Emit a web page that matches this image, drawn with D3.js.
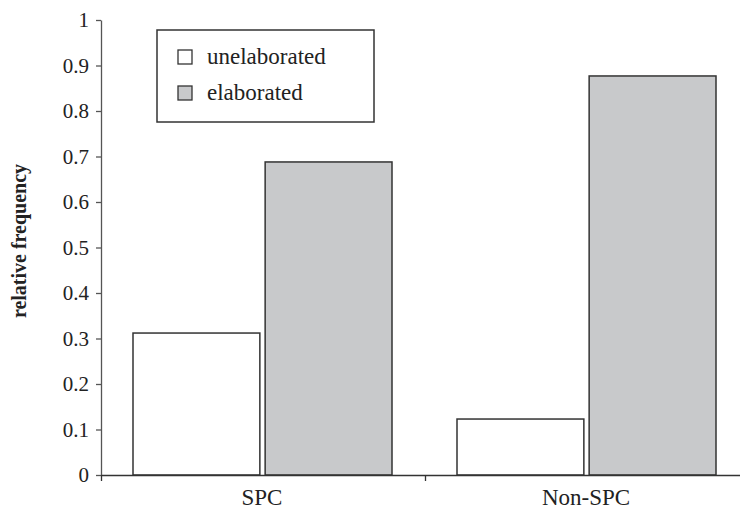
<!DOCTYPE html>
<html lang="en">
<head>
<meta charset="UTF-8" />
<title>relative frequency</title>
<script src="https://cdn.jsdelivr.net/npm/d3@7"></script>
<style>
  body { margin: 0; background: #fff; }
  svg text { font-family: "Liberation Serif", "DejaVu Serif", serif; fill: #222; }
</style>
</head>
<body>
<script>
// data
var categories = ["SPC", "Non-SPC"];
var seriesNames = ["unelaborated", "elaborated"];
var unelaborated = [0.312, 0.123];
var elaborated = [0.688, 0.877];
var yTicks = [0, 0.1, 0.2, 0.3, 0.4, 0.5, 0.6, 0.7, 0.8, 0.9, 1];
var colors = ["#ffffff", "#c8c9cb"];

var w = 740, h = 512;
var svg = d3.select("body").append("svg").attr("width", w).attr("height", h);

// plot edges (don't call it "top", that is window.top)
var plotLeft = 101, plotRight = 749, plotTop = 20, plotBottom = 475;

var x0 = d3.scaleBand().domain(categories).range([plotLeft, plotRight]);
var x1 = d3.scaleBand().domain(seriesNames).range([32, 291]).paddingInner(0.04);
var y = d3.scaleLinear().domain([0, 1]).range([plotBottom, plotTop]);

var rows = categories.map(function(c, i) {
  return { cat: c, values: [unelaborated[i], elaborated[i]] };
});

// bars
var groups = svg.selectAll("g.cat").data(rows).enter().append("g")
  .attr("class", "cat")
  .attr("transform", function(d) { return "translate(" + x0(d.cat) + ",0)"; });

groups.selectAll("rect").data(function(d) {
    return d.values.map(function(v, k) { return { key: seriesNames[k], v: v, k: k }; });
  }).enter().append("rect")
  .attr("x", function(d) { return x1(d.key); })
  .attr("width", x1.bandwidth())
  .attr("y", function(d) { return y(d.v); })
  .attr("height", function(d) { return plotBottom - y(d.v); })
  .attr("fill", function(d) { return colors[d.k]; })
  .attr("stroke", "#333")
  .attr("stroke-width", 1.5);

// y axis
var yAxis = svg.append("g")
  .attr("transform", "translate(" + plotLeft + ",0)")
  .call(d3.axisLeft(y).tickValues(yTicks).tickSize(5).tickSizeOuter(0).tickPadding(7)
    .tickFormat(function(d) { return String(+d.toFixed(1)); }));
yAxis.select(".domain").attr("stroke", "#555").attr("stroke-width", 1.3);
yAxis.selectAll(".tick line").attr("stroke", "#555").attr("stroke-width", 1.3);
yAxis.selectAll(".tick text").style("font-size", "21px").attr("fill", "#222");

// x axis: ticks at category boundaries, labels centred
var xb = d3.scaleLinear().domain([0, categories.length]).range([plotLeft, plotRight]);
var xAxis = svg.append("g")
  .attr("transform", "translate(0," + plotBottom + ")")
  .call(d3.axisBottom(xb).tickValues([0, 1, 2]).tickFormat("").tickSize(6).tickSizeOuter(0));
xAxis.select(".domain").attr("stroke", "#333").attr("stroke-width", 1.5);
xAxis.selectAll(".tick line").attr("stroke", "#333").attr("stroke-width", 1.3);

svg.append("g").selectAll("text").data(categories).enter().append("text")
  .attr("x", function(d) { return x0(d) + x0.bandwidth() / 2 - 1; })
  .attr("y", 505)
  .attr("text-anchor", "middle")
  .style("font-size", "23px")
  .text(function(d) { return d; });

// y label
svg.append("text")
  .attr("transform", "translate(26,241) rotate(-90)")
  .attr("text-anchor", "middle")
  .style("font-size", "20px")
  .style("font-weight", "bold")
  .text("relative frequency");

// legend
var lg = svg.append("g").attr("transform", "translate(157,30)");
lg.append("rect").attr("width", 217).attr("height", 92)
  .attr("fill", "#fff").attr("stroke", "#333").attr("stroke-width", 1.5);
var items = lg.selectAll("g.item").data(seriesNames).enter().append("g")
  .attr("class", "item")
  .attr("transform", function(d, i) { return "translate(21," + (27 + i * 36) + ")"; });
items.append("rect").attr("x", 0).attr("y", -7).attr("width", 14).attr("height", 14)
  .attr("fill", function(d, i) { return colors[i]; })
  .attr("stroke", "#333").attr("stroke-width", 1.3);
items.append("text").attr("x", 29).attr("y", 7)
  .style("font-size", "23px")
  .text(function(d) { return d; });
</script>
</body>
</html>
